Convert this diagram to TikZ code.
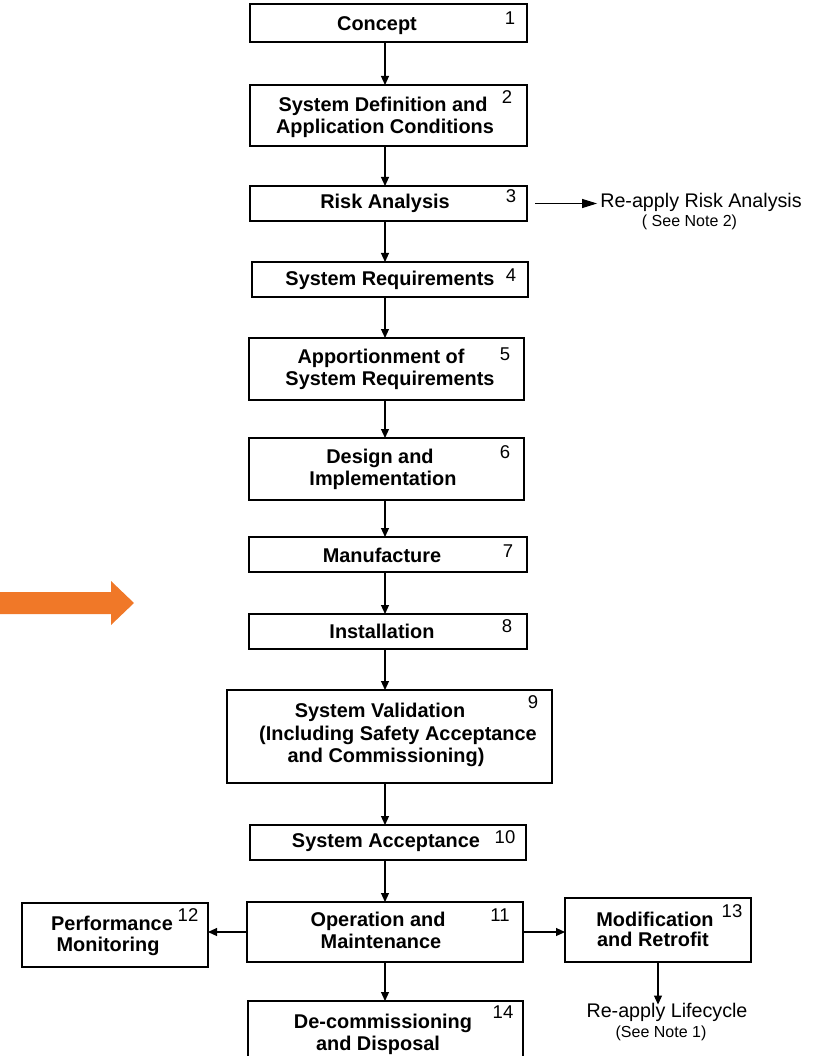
\documentclass[tikz,border=0pt]{standalone}
\usepackage{fontspec}
\setmainfont{Liberation Sans}
\usetikzlibrary{arrows.meta}
\definecolor{orangeflow}{RGB}{240,120,40}
\begin{document}
\begin{tikzpicture}[x=1pt,y=-1pt,
  stagebox/.style={draw=black, line width=2pt, inner sep=0pt, outer sep=0pt, fill=white},
  stagetext/.style={anchor=base, inner sep=0pt, font=\bfseries\fontsize{19.9}{23}\selectfont},
  stagenum/.style={anchor=base, inner sep=0pt, font=\fontsize{18.5}{22}\selectfont},
  notetext/.style={anchor=base, inner sep=0pt, font=\fontsize{19.7}{23}\selectfont},
  subnote/.style={anchor=base, inner sep=0pt, font=\fontsize{16}{19}\selectfont},
  conn/.style={-{Triangle[length=9pt,width=8pt]}, line width=1.1pt, draw=black},
]
\useasboundingbox (0,0) rectangle (819,1056);
\clip (0,0) rectangle (819,1056);

% orange block arrow on the left
\fill[orangeflow] (0,592) -- (111,592) -- (111,581) -- (134,603) -- (111,625)
  -- (111,614) -- (0,614) -- cycle;

% lifecycle stages
\node[stagebox, minimum width=277, minimum height=38] (b1) at (388.5,23) {};
\node[stagebox, minimum width=277, minimum height=61] (b2) at (388.5,115.5) {};
\node[stagebox, minimum width=277, minimum height=35] (b3) at (388.5,203.5) {};
\node[stagebox, minimum width=276, minimum height=35] (b4) at (390,279.5) {};
\node[stagebox, minimum width=275, minimum height=62] (b5) at (386.5,369) {};
\node[stagebox, minimum width=275, minimum height=62] (b6) at (386.5,469) {};
\node[stagebox, minimum width=278, minimum height=35] (b7) at (388,554.5) {};
\node[stagebox, minimum width=278, minimum height=35] (b8) at (388,631.5) {};
\node[stagebox, minimum width=325, minimum height=93] (b9) at (389.5,736.5) {};
\node[stagebox, minimum width=276, minimum height=35] (b10) at (388,842.5) {};
\node[stagebox, minimum width=276, minimum height=60] (b11) at (385,932) {};
\node[stagebox, minimum width=186, minimum height=64] (b12) at (115,935) {};
\node[stagebox, minimum width=186, minimum height=64] (b13) at (658,930) {};
\node[stagebox, minimum width=275, minimum height=74] (b14) at (385.5,1038) {};

% stage titles
\node[stagetext] (t1) at (377,31) {Concept};
\node[stagetext] (t2a) at (383,112) {System Definition and};
\node[stagetext] (t2b) at (385,134) {Application Conditions};
\node[stagetext] (t3) at (385,209) {Risk Analysis};
\node[stagetext] (t4) at (390,285) {System Requirements};
\node[stagetext] (t5a) at (381,363) {Apportionment of};
\node[stagetext] (t5b) at (390,385) {System Requirements};
\node[stagetext] (t6a) at (380,463) {Design and};
\node[stagetext] (t6b) at (383,485) {Implementation};
\node[stagetext] (t7) at (382,562) {Manufacture};
\node[stagetext] (t8) at (382,638) {Installation};
\node[stagetext] (t9a) at (380,717) {System Validation};
\node[stagetext] (t9b) at (398,740) {(Including Safety Acceptance};
\node[stagetext] (t9c) at (386,762) {and Commissioning)};
\node[stagetext] (t10) at (386,847) {System Acceptance};
\node[stagetext] (t11a) at (378,926) {Operation and};
\node[stagetext] (t11b) at (381,948) {Maintenance};
\node[stagetext] (t12a) at (112,930) {Performance};
\node[stagetext] (t12b) at (108,951) {Monitoring};
\node[stagetext] (t13a) at (655,926) {Modification};
\node[stagetext] (t13b) at (653,946) {and Retrofit};
\node[stagetext] (t14a) at (383,1028) {De-commissioning};
\node[stagetext] (t14b) at (378,1050) {and Disposal};

% stage numbers
\node[stagenum] (n1) at (510,25) {1};
\node[stagenum] (n2) at (507,104) {2};
\node[stagenum] (n3) at (511,203) {3};
\node[stagenum] (n4) at (511,282) {4};
\node[stagenum] (n5) at (505,360) {5};
\node[stagenum] (n6) at (505,458) {6};
\node[stagenum] (n7) at (508,557) {7};
\node[stagenum] (n8) at (507,632) {8};
\node[stagenum] (n9) at (533,708) {9};
\node[stagenum] (n10) at (505,843) {10};
\node[stagenum] (n11) at (500,921) {11};
\node[stagenum] (n12) at (188,921) {12};
\node[stagenum] (n13) at (732,917) {13};
\node[stagenum] (n14) at (503,1018) {14};

% side notes
\node[notetext] (riskre) at (701,208) {Re-apply Risk Analysis};
\node[subnote] (risknote) at (689.5,227) {( See Note 2)};
\node[notetext] (lifere) at (667,1017) {Re-apply Lifecycle};
\node[subnote] (lifenote) at (661,1037) {(See Note 1)};

% main flow
\coordinate (spine) at (385,0);
\foreach \a/\b in {b1/b2,b2/b3,b3/b4,b4/b5,b5/b6,b6/b7,b7/b8,b8/b9,b9/b10,b10/b11,b11/b14}
  \draw[conn] (\a.south -| spine) -- (\b.north -| spine);

% branches
\draw[conn, -{Triangle[length=15pt,width=9pt]}] ([xshift=8pt]b3.east) -- ([xshift=-3pt]riskre.west |- b3.east);
\draw[conn] (b11.west) -- (b12.east |- b11.west);
\draw[conn] (b11.east) -- (b13.west |- b11.east);
\draw[conn] (b13.south) -- ([yshift=-2pt]b13.south |- lifere.north);
\end{tikzpicture}
\end{document}
